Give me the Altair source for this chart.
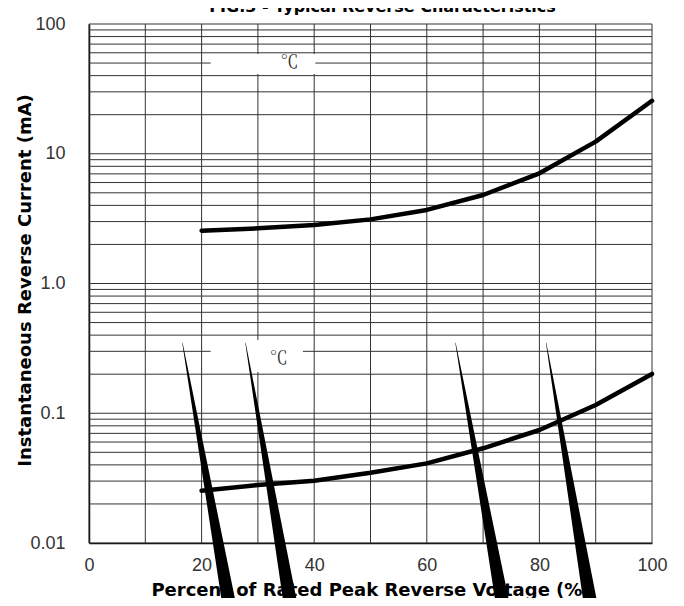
import altair as alt
import pandas as pd

# ---- data ----
x_pct = [20, 30, 40, 50, 60, 70, 80, 90, 100]
i_high = [2.55, 2.66, 2.82, 3.12, 3.69, 4.81, 7.07, 12.4, 25.6]
i_low = [0.0253, 0.0280, 0.0302, 0.0348, 0.0411, 0.0537, 0.0743, 0.1159, 0.201]

x_domain = [0, 100]
y_domain = [0.01, 100]
x_ticks = [0, 20, 40, 60, 80, 100]
x_grid = [0, 10, 20, 30, 40, 50, 60, 70, 80, 90, 100]
decades = [0.01, 0.1, 1, 10, 100]
decade_labels = ["0.01", "0.1", "1.0", "10", "100"]
multipliers = [1, 2, 3, 4, 5, 6, 7, 8, 9]

temp_text = ["\u2103", "\u2103"]
temp_x = [35.6, 33.7]
temp_y = [50.0, 0.262]
box_x0 = [21.6, 21.6]
box_x1 = [40.2, 38.0]
box_y0 = [58.7, 0.367]
box_y1 = [41.2, 0.208]

wedge_x_top = [16.6, 27.8, 65.1, 81.2]
wedge_x_bottom = [25.1, 36.0, 73.7, 89.3]
wedge_y_top = [0.348, 0.348, 0.348, 0.348]
wedge_y_bottom = [0.003, 0.003, 0.003, 0.003]

title_text = "FIG.3 - Typical Reverse Characteristics"
x_title = "Percent of Rated Peak Reverse Voltage (%)"
y_title = "Instantaneous Reverse Current (mA)"

# ---- tables ----
y_grid = [m * d for d in decades[:-1] for m in multipliers] + [decades[-1]]
hgrid = pd.DataFrame({"y": y_grid, "x0": x_domain[0], "x1": x_domain[1]})
vgrid = pd.DataFrame({"x": x_grid, "y0": y_domain[0], "y1": y_domain[1]})
curves = pd.DataFrame({
    "x": x_pct * 2,
    "y": i_high + i_low,
    "s": ["high"] * len(x_pct) + ["low"] * len(x_pct),
})
boxes = pd.DataFrame({"x0": box_x0, "x1": box_x1, "y0": box_y0, "y1": box_y1})
temps = pd.DataFrame({"x": temp_x, "y": temp_y, "t": temp_text})
wrows = []
for k in range(len(wedge_x_top)):
    wrows.append({"w": k, "end": "top", "o": 0, "x": wedge_x_top[k], "y": wedge_y_top[k]})
    wrows.append({"w": k, "end": "bottom", "o": 1, "x": wedge_x_bottom[k], "y": wedge_y_bottom[k]})
wedges = pd.DataFrame(wrows)

xs = alt.Scale(domain=x_domain, nice=False, zero=False)
ys = alt.Scale(type="log", domain=y_domain, nice=False)

label_font = "Liberation Sans"
title_font = "DejaVu Sans"

label_expr = "[" + ",".join("'%s'" % s for s in decade_labels) + "][indexof([" + \
    ",".join(repr(d) for d in decades) + "], datum.value)]"

y_axis = alt.Axis(
    values=decades, labelExpr=label_expr, ticks=False, tickSize=0, grid=False,
    domainColor="black", domainWidth=1.5, labelFont=label_font, labelFontSize=18,
    labelColor="#333", labelPadding=24, labelBaseline="middle", labelFlush=False,
    title=y_title, titleFont=title_font, titleFontSize=18, titleFontWeight="bold",
    titleColor="black", titleAngle=270, titleX=-64, titleY=256,
    titleBaseline="middle", titleAlign="center",
)
x_axis = alt.Axis(
    values=x_ticks, ticks=False, tickSize=0, grid=False,
    domainColor="black", domainWidth=1.5, labelFont=label_font, labelFontSize=18,
    labelColor="#333", labelPadding=13, labelFlush=False,
    title=x_title, titleFont=title_font, titleFontSize=18, titleFontWeight="bold",
    titleColor="black", titleY=52, titleBaseline="alphabetic",
)

grid_color = "#333333"

h_layer = alt.Chart(hgrid).mark_rule(color=grid_color, strokeWidth=1).encode(
    y=alt.Y("y:Q", scale=ys, axis=y_axis),
    x=alt.X("x0:Q", scale=xs, axis=x_axis),
    x2="x1:Q",
)
v_layer = alt.Chart(vgrid).mark_rule(color=grid_color, strokeWidth=1).encode(
    x=alt.X("x:Q", scale=xs, axis=x_axis),
    y=alt.Y("y0:Q", scale=ys, axis=y_axis),
    y2="y1:Q",
)
box_layer = alt.Chart(boxes).mark_rect(color="white").encode(
    x=alt.X("x0:Q", scale=xs, axis=x_axis), x2="x1:Q",
    y=alt.Y("y0:Q", scale=ys, axis=y_axis), y2="y1:Q",
)
temp_layer = alt.Chart(temps).mark_text(
    font="Noto Serif CJK JP, Noto Sans CJK JP", fontSize=18, color="#333"
).encode(
    x=alt.X("x:Q", scale=xs, axis=x_axis),
    y=alt.Y("y:Q", scale=ys, axis=y_axis),
    text="t:N",
)
curve_layer = alt.Chart(curves).mark_line(
    color="black", strokeWidth=4.5, strokeCap="round", strokeJoin="round"
).encode(
    x=alt.X("x:Q", scale=xs, axis=x_axis),
    y=alt.Y("y:Q", scale=ys, axis=y_axis),
    detail="s:N",
)
wedge_layer = alt.Chart(wedges).mark_trail(color="black").encode(
    x=alt.X("x:Q", scale=xs, axis=x_axis),
    y=alt.Y("y:Q", scale=ys, axis=y_axis),
    detail="w:N",
    order="o:Q",
    size=alt.Size("end:N", scale=alt.Scale(domain=["top", "bottom"], range=[0.4, 14]), legend=None),
)

chart = alt.layer(
    h_layer, v_layer, box_layer, temp_layer, curve_layer, wedge_layer
).properties(
    width=563, height=519,
    autosize=alt.AutoSizeParams(type="none"),
    padding={"left": 81, "top": 16, "right": 24, "bottom": 55},
    title=alt.TitleParams(
        title_text, font=title_font, fontSize=16, fontWeight="bold", color="black",
        anchor="middle", offset=0, dx=12,
    ),
    background="white",
).configure_view(strokeWidth=0)

chart.save("out.html", embed_options={"renderer": "svg", "actions": False})
